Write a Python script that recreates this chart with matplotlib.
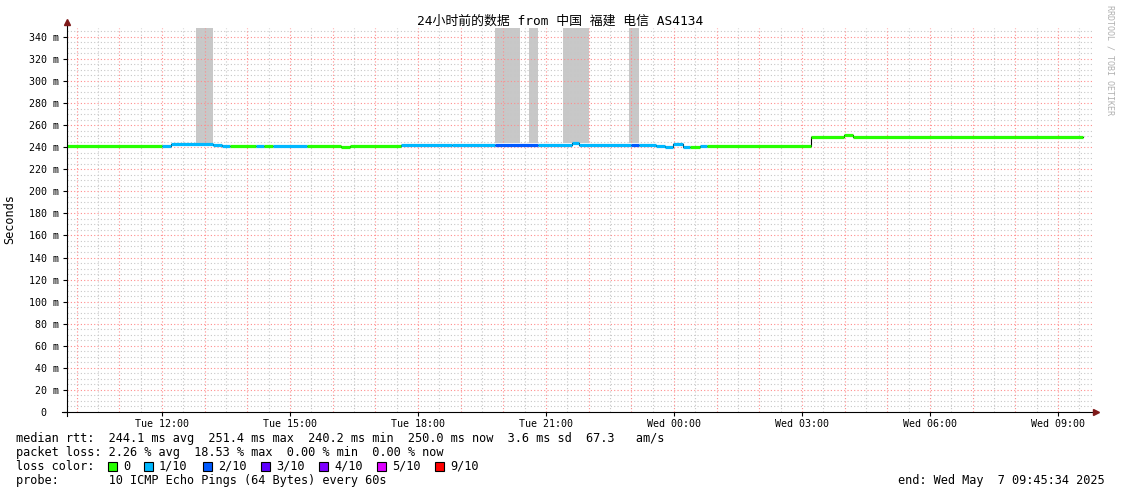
import matplotlib
matplotlib.use("Agg")
import matplotlib.pyplot as plt
from matplotlib.patches import Rectangle
from matplotlib.lines import Line2D

# ---- data ----
seg_times = ["Tue 09:46", "Tue 12:00", "Tue 12:13", "Tue 13:12", "Tue 13:25", "Tue 13:36",
             "Tue 14:12", "Tue 14:23", "Tue 14:36", "Tue 15:24", "Tue 16:12", "Tue 16:24",
             "Tue 17:36", "Tue 18:48", "Tue 19:48", "Tue 20:49", "Tue 21:36", "Tue 21:47",
             "Tue 22:59", "Tue 23:11", "Tue 23:35", "Tue 23:48", "Tue 23:59", "Wed 00:12",
             "Wed 00:23", "Wed 00:36", "Wed 00:47", "Wed 03:13", "Wed 03:59", "Wed 04:12",
             "Wed 09:35"]
median_rtt = [241.2, 241.5, 242.7, 241.8, 241.5, 241.2, 241.2, 241.2, 241.2, 241.2,
              240.5, 241.2, 242.0, 242.2, 242.2, 242.2, 243.6, 242.2, 242.2, 242.2,
              241.5, 240.5, 242.7, 240.3, 240.3, 241.2, 241.2, 249.6, 251.4, 249.6]
loss_level = [0, 1, 1, 1, 1, 0, 1, 0, 1, 0, 0, 0, 1, 1, 2, 1, 1, 1, 2, 1,
              1, 1, 1, 1, 0, 1, 0, 0, 0, 0]

smoke_start = ["Tue 12:48", "Tue 19:48", "Tue 20:36", "Tue 21:24", "Tue 22:57"]
smoke_end = ["Tue 13:12", "Tue 20:23", "Tue 20:49", "Tue 22:00", "Tue 23:11"]
smoke_low = 243.9

loss_names = ["0", "1/10", "2/10", "3/10", "4/10", "5/10", "9/10"]
loss_colors = ["#26ff00", "#00b8ff", "#0059ff", "#5e00ff", "#7e00ff", "#dd00ff", "#ff0000"]

tick_hours = [12, 15, 18, 21, 24, 27, 30, 33]
tick_labels = ["Tue 12:00", "Tue 15:00", "Tue 18:00", "Tue 21:00",
               "Wed 00:00", "Wed 03:00", "Wed 06:00", "Wed 09:00"]


def to_hours(s):
    day, hm = s.split()
    h, m = hm.split(":")
    return (24 if day == "Wed" else 0) + int(h) + int(m) / 60


W, H = 1121, 494
MONO = "DejaVu Sans Mono"
TITLE_FONT = [MONO, "Noto Sans CJK SC"]
LEG = 8.55

fig = plt.figure(figsize=(W / 100, H / 100), dpi=100)
fig.patch.set_facecolor("white")

x0, x1, ytop, ybot = 67, 1093, 28, 412
ax = fig.add_axes([x0 / W, 1 - ybot / H, (x1 - x0) / W, (ybot - ytop) / H])
ax.set_xlim(9.774, 33.82)
ax.set_ylim(0, 348)
ax.set_facecolor("white")
for sp in ax.spines.values():
    sp.set_visible(False)

# grid
red = (1.0, 0.55, 0.55)
grey = (0.78, 0.78, 0.78)
ax.set_axisbelow(False)
for h in range(10, 34):
    ax.axvline(h, color=red, lw=0.8, ls=(0, (1, 2)), zorder=2)
    ax.axvline(h + 0.5, color=grey, lw=0.8, ls=(0, (1, 2)), zorder=1.9)
for v in range(5, 348, 5):
    if v % 20 == 0:
        ax.axhline(v, color=red, lw=0.8, ls=(0, (1, 2)), zorder=2)
    else:
        ax.axhline(v, color=grey, lw=0.8, ls=(0, (1, 2)), zorder=1.9)

# smoke
for s, e in zip(smoke_start, smoke_end):
    a, b = to_hours(s), to_hours(e)
    ax.add_patch(Rectangle((a, smoke_low), b - a, 348 - smoke_low,
                           facecolor="#c8c8c8", edgecolor="none", zorder=1))

# median line
t = [to_hours(s) for s in seg_times]
ax.step(t, median_rtt + [median_rtt[-1]], where="post", color="black", lw=0.8, zorder=3)
for i in range(len(median_rtt)):
    ax.hlines(median_rtt[i], t[i], t[i + 1], color=loss_colors[loss_level[i]],
              lw=2.3, zorder=4, capstyle="butt")

# ticks
ax.set_xticks(tick_hours)
ax.set_xticklabels(tick_labels, fontsize=7.2, family=MONO)
ax.set_yticks(range(0, 341, 20))
ax.set_yticklabels(["0  "] + ["%d m" % v for v in range(20, 341, 20)],
                   fontsize=7.2, family=MONO)
ax.tick_params(axis="y", length=3, pad=3, width=0.8)
ax.tick_params(axis="x", length=3, pad=2, width=0.8)


# axes with arrows
def fx(px):
    return px / W


def fy(py):
    return 1 - py / H


fig.add_artist(Line2D([fx(67), fx(67)], [fy(416), fy(24)], color="black", lw=0.8))
fig.add_artist(Line2D([fx(62), fx(1095)], [fy(412), fy(412)], color="black", lw=0.8))
fig.add_artist(Line2D([fx(67)], [fy(22)], marker="^", ms=4, color="#7f1a1a", lw=0))
fig.add_artist(Line2D([fx(1096)], [fy(412)], marker=">", ms=4, color="#7f1a1a", lw=0))

# texts
fig.text(fx(560), fy(21), "24小时前的数据 from 中国 福建 电信 AS4134",
         ha="center", va="center", fontsize=9.3, family=TITLE_FONT)
fig.text(fx(10), fy(219), "Seconds", rotation=90, ha="center", va="center",
         fontsize=LEG, family=MONO)
fig.text(fx(1110), fy(5), "RRDTOOL / TOBI OETIKER", rotation=270, ha="center", va="top",
         fontsize=6.0, family=MONO, color="#b0b0b0")

fig.text(fx(16), fy(438), "median rtt:  244.1 ms avg  251.4 ms max  240.2 ms min  "
         "250.0 ms now  3.6 ms sd  67.3   am/s", va="center", fontsize=LEG, family=MONO)
fig.text(fx(16), fy(452), "packet loss: 2.26 % avg  18.53 % max  0.00 % min  0.00 % now",
         va="center", fontsize=LEG, family=MONO)
fig.text(fx(16), fy(466), "loss color:", va="center", fontsize=LEG, family=MONO)
sq_x = [108, 144, 203, 261, 319, 377, 435]
for px, name, col in zip(sq_x, loss_names, loss_colors):
    fig.add_artist(Rectangle((fx(px), fy(471)), 9 / W, 9 / H, facecolor=col,
                             edgecolor="black", lw=0.8, transform=fig.transFigure))
    fig.text(fx(px + 15), fy(466), name, va="center", fontsize=LEG, family=MONO)
fig.text(fx(16), fy(480), "probe:       10 ICMP Echo Pings (64 Bytes) every 60s",
         va="center", fontsize=LEG, family=MONO)
fig.text(fx(1105), fy(480), "end: Wed May  7 09:45:34 2025", ha="right", va="center",
         fontsize=LEG, family=MONO)

fig.savefig("out.png", dpi=100)
